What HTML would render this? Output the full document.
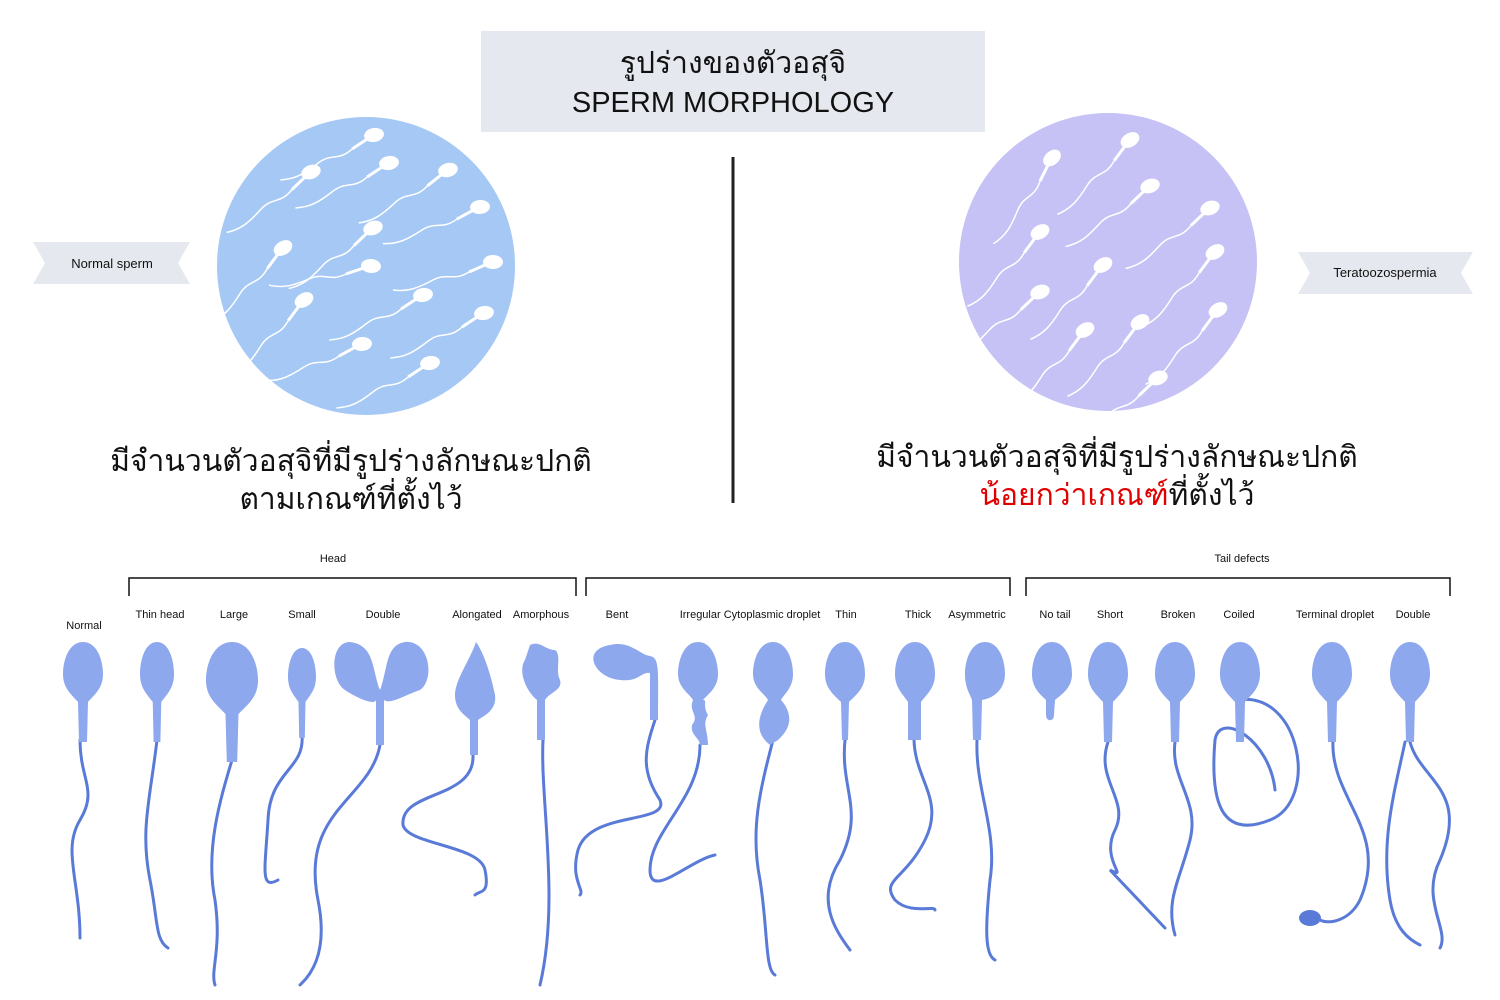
<!DOCTYPE html>
<html><head><meta charset="utf-8"><style>
body{margin:0;width:1500px;height:1000px;background:#fff;overflow:hidden;font-family:"Liberation Sans","Noto Sans CJK SC",sans-serif}
</style></head><body>
<svg width="1500" height="1000" viewBox="0 0 1500 1000" xmlns="http://www.w3.org/2000/svg" style="position:absolute;left:0;top:0">
<defs>
<g id="hd"><path d="M0,0 C-14,0 -20,18 -20,32 C-20,46 -12,52 -5,60 L-4,100 L4,100 L5,60 C12,52 20,46 20,32 C20,18 14,0 0,0Z" fill="#8ea8ee"/></g>
<g id="ms"><ellipse cx="0" cy="0" rx="10" ry="7" fill="#fff"/><path d="M-8,3 L-24,10" stroke="#fff" stroke-width="3"/><path d="M-24,10 C-40,20 -45,10 -60,18 S-85,30 -100,28" stroke="#fff" stroke-width="1.5" fill="none"/></g>
</defs>
<rect x="481" y="31" width="504" height="101" fill="#e5e8ee"/>
<text x="733" y="73" text-anchor="middle" font-size="30" fill="#111">รูปร่างของตัวอสุจิ</text>
<text x="733" y="112" text-anchor="middle" font-size="29" fill="#111">SPERM MORPHOLOGY</text>
<line x1="733" y1="157" x2="733" y2="503" stroke="#222" stroke-width="3"/>
<circle cx="366" cy="266" r="149" fill="#a5c8f5"/>
<circle cx="1108" cy="262" r="149" fill="#c6c2f5"/>
<g>
<use href="#ms" transform="translate(374,135) rotate(-10)"/>
<use href="#ms" transform="translate(311,172) rotate(-20)"/>
<use href="#ms" transform="translate(389,163) rotate(-10)"/>
<use href="#ms" transform="translate(448,170) rotate(-15)"/>
<use href="#ms" transform="translate(480,207) rotate(-5)"/>
<use href="#ms" transform="translate(373,228) rotate(-20)"/>
<use href="#ms" transform="translate(283,248) rotate(-30)"/>
<use href="#ms" transform="translate(371,266) rotate(5)"/>
<use href="#ms" transform="translate(493,262) rotate(0)"/>
<use href="#ms" transform="translate(423,295) rotate(-10)"/>
<use href="#ms" transform="translate(304,300) rotate(-30)"/>
<use href="#ms" transform="translate(484,313) rotate(-10)"/>
<use href="#ms" transform="translate(362,344) rotate(-5)"/>
<use href="#ms" transform="translate(430,363) rotate(-10)"/>
</g>
<g>
<use href="#ms" transform="translate(1130,140) rotate(-30)"/>
<use href="#ms" transform="translate(1052,158) rotate(-40)"/>
<use href="#ms" transform="translate(1150,186) rotate(-20)"/>
<use href="#ms" transform="translate(1210,208) rotate(-20)"/>
<use href="#ms" transform="translate(1040,232) rotate(-30)"/>
<use href="#ms" transform="translate(1103,265) rotate(-30)"/>
<use href="#ms" transform="translate(1215,252) rotate(-30)"/>
<use href="#ms" transform="translate(1040,292) rotate(-20)"/>
<use href="#ms" transform="translate(1218,310) rotate(-30)"/>
<use href="#ms" transform="translate(1140,322) rotate(-30)"/>
<use href="#ms" transform="translate(1085,330) rotate(-30)"/>
<use href="#ms" transform="translate(1158,378) rotate(-20)"/>
</g>
<polygon points="33,242 190,242 178,263 190,284 33,284 45,263" fill="#e5e8ee"/>
<text x="112" y="268" text-anchor="middle" font-size="13" fill="#111">Normal sperm</text>
<polygon points="1298,252 1473,252 1461,273 1473,294 1298,294 1310,273" fill="#e5e8ee"/>
<text x="1385" y="277" text-anchor="middle" font-size="13" fill="#111">Teratoozospermia</text>
<text x="351" y="471" text-anchor="middle" font-size="30" fill="#111">มีจำนวนตัวอสุจิที่มีรูปร่างลักษณะปกติ</text>
<text x="351" y="509" text-anchor="middle" font-size="30" fill="#111">ตามเกณฑ์ที่ตั้งไว้</text>
<text x="1117" y="467" text-anchor="middle" font-size="30" fill="#111">มีจำนวนตัวอสุจิที่มีรูปร่างลักษณะปกติ</text>
<text x="1117" y="505" text-anchor="middle" font-size="30"><tspan fill="#e00000">น้อยกว่าเกณฑ์</tspan><tspan fill="#111">ที่ตั้งไว้</tspan></text>
<g fill="none" stroke="#111" stroke-width="1.5">
<path d="M129,596 V578 H576 V596"/><path d="M586,596 V578 H1010 V596"/><path d="M1026,596 V578 H1450 V596"/>
</g>
<g font-size="11" fill="#111" text-anchor="middle">
<text x="333" y="562">Head</text><text x="1242" y="562">Tail defects</text>
<text x="84" y="629">Normal</text><text x="160" y="618">Thin head</text><text x="234" y="618">Large</text><text x="302" y="618">Small</text><text x="383" y="618">Double</text><text x="477" y="618">Alongated</text><text x="541" y="618">Amorphous</text><text x="617" y="618">Bent</text><text x="750" y="618">Irregular Cytoplasmic droplet</text><text x="846" y="618">Thin</text><text x="918" y="618">Thick</text><text x="977" y="618">Asymmetric</text><text x="1055" y="618">No tail</text><text x="1110" y="618">Short</text><text x="1178" y="618">Broken</text><text x="1239" y="618">Coiled</text><text x="1335" y="618">Terminal droplet</text><text x="1413" y="618">Double</text>
</g>
<g fill="none" stroke="#5a7ad8" stroke-width="3" stroke-linecap="round">
<path d="M80,740 C80,780 98,790 80,820 C62,850 80,880 80,938"/>
<path d="M157,740 C150,800 140,830 150,880 C158,920 155,940 168,948"/>
<path d="M232,760 C220,800 205,850 215,900 C222,950 210,970 215,985"/>
<path d="M302,735 C305,770 270,770 268,820 C265,870 260,890 278,880"/>
<path d="M380,745 C370,800 300,810 318,900 C330,960 305,980 300,985"/>
<path d="M473,755 C475,800 400,790 403,825 C408,845 480,845 485,870 C490,895 480,890 475,895"/>
<path d="M543,740 C540,800 560,900 540,985"/>
<path d="M655,720 C645,750 640,770 660,800 C670,825 590,810 578,850 C570,880 585,890 580,895"/>
<path d="M700,745 C700,800 650,830 650,870 C650,900 690,860 715,855"/>
<path d="M773,740 C760,790 750,830 760,880 C768,930 765,970 775,975"/>
<path d="M845,740 C840,790 865,810 840,860 C815,900 835,930 850,950"/>
<path d="M914,740 C915,780 945,800 925,840 C905,880 880,880 895,900 C910,915 935,905 935,910"/>
<path d="M977,740 C975,790 998,830 990,880 C985,930 985,955 995,960"/>
<path d="M1108,742 C1095,780 1130,800 1115,830 C1100,860 1130,880 1110,870 L1165,928"/>
<path d="M1175,742 C1170,780 1200,800 1190,840 C1180,880 1165,900 1175,935"/>
<path d="M1238,700 C1300,690 1320,800 1270,820 C1220,840 1210,800 1215,740 C1220,710 1270,740 1275,790"/>
<path d="M1333,740 C1330,800 1390,830 1360,900 C1350,920 1330,925 1320,920"/>
<path d="M1410,742 C1420,780 1470,790 1440,860 C1420,900 1450,930 1440,948"/>
<path d="M1405,742 C1395,790 1380,840 1390,900 C1395,930 1410,940 1420,945"/>
</g>
<ellipse cx="1310" cy="918" rx="11" ry="8" fill="#5a7ad8"/>
<use href="#hd" x="83" y="642"/>
<g transform="translate(157,642) scale(0.85,1)"><use href="#hd"/></g>
<g transform="translate(232,642) scale(1.3,1.2)"><use href="#hd"/></g>
<g transform="translate(302,648) scale(0.7,0.9)"><use href="#hd"/></g>
<path d="M380,690 C372,670 375,645 350,642 C330,642 330,680 345,690 C360,700 375,705 376,700 L376,745 L384,745 L384,700 C390,705 405,695 420,690 C435,680 430,640 405,642 C385,645 388,670 380,690Z" fill="#8ea8ee"/>
<path d="M476,642 C470,660 455,680 455,695 C455,710 465,715 470,720 L470,755 L478,755 L478,720 C485,715 497,710 495,695 C490,670 482,650 476,642Z" fill="#8ea8ee"/>
<path d="M530,645 C540,640 545,650 555,650 C562,655 555,670 560,680 C563,690 550,692 545,700 L545,740 L537,740 L537,700 C525,690 518,670 525,660Z" fill="#8ea8ee"/>
<path d="M610,645 C630,640 640,655 650,656 C660,658 658,670 658,720 L650,720 L650,673 C640,672 640,682 620,680 C595,678 580,650 610,645Z" fill="#8ea8ee"/>
<path d="M698,642 C684,642 678,660 678,674 C678,688 690,694 693,700 C688,712 700,715 692,725 C690,735 700,738 700,745 L708,745 C708,730 702,725 708,715 C702,705 708,700 703,700 C708,694 718,688 718,674 C718,660 712,642 698,642Z" fill="#8ea8ee"/>
<path d="M773,642 C759,642 753,660 753,674 C753,688 765,694 768,700 C755,720 757,735 770,745 L778,740 C795,725 790,710 781,700 C784,694 793,688 793,674 C793,660 787,642 773,642Z" fill="#8ea8ee"/>
<path d="M845,642 C831,642 825,660 825,674 C825,688 833,694 841,702 L842,740 L848,740 L849,702 C857,694 865,688 865,674 C865,660 859,642 845,642Z" fill="#8ea8ee"/>
<path d="M915,642 C901,642 895,660 895,674 C895,688 903,694 908,702 L908,740 L921,740 L921,702 C927,694 935,688 935,674 C935,660 929,642 915,642Z" fill="#8ea8ee"/>
<path d="M985,642 C971,642 965,660 965,674 C965,688 970,694 972,700 L973,740 L981,740 L982,700 C995,698 1005,688 1005,674 C1005,660 999,642 985,642Z" fill="#8ea8ee"/>
<path d="M1052,642 C1038,642 1032,660 1032,674 C1032,688 1040,694 1046,700 L1046,715 C1046,722 1054,722 1054,715 L1055,700 C1062,694 1072,688 1072,674 C1072,660 1066,642 1052,642Z" fill="#8ea8ee"/>
<use href="#hd" x="1108" y="642"/>
<use href="#hd" x="1175" y="642"/>
<use href="#hd" x="1240" y="642"/>
<use href="#hd" x="1332" y="642"/>
<use href="#hd" x="1410" y="642"/>
</svg>
</body></html>
